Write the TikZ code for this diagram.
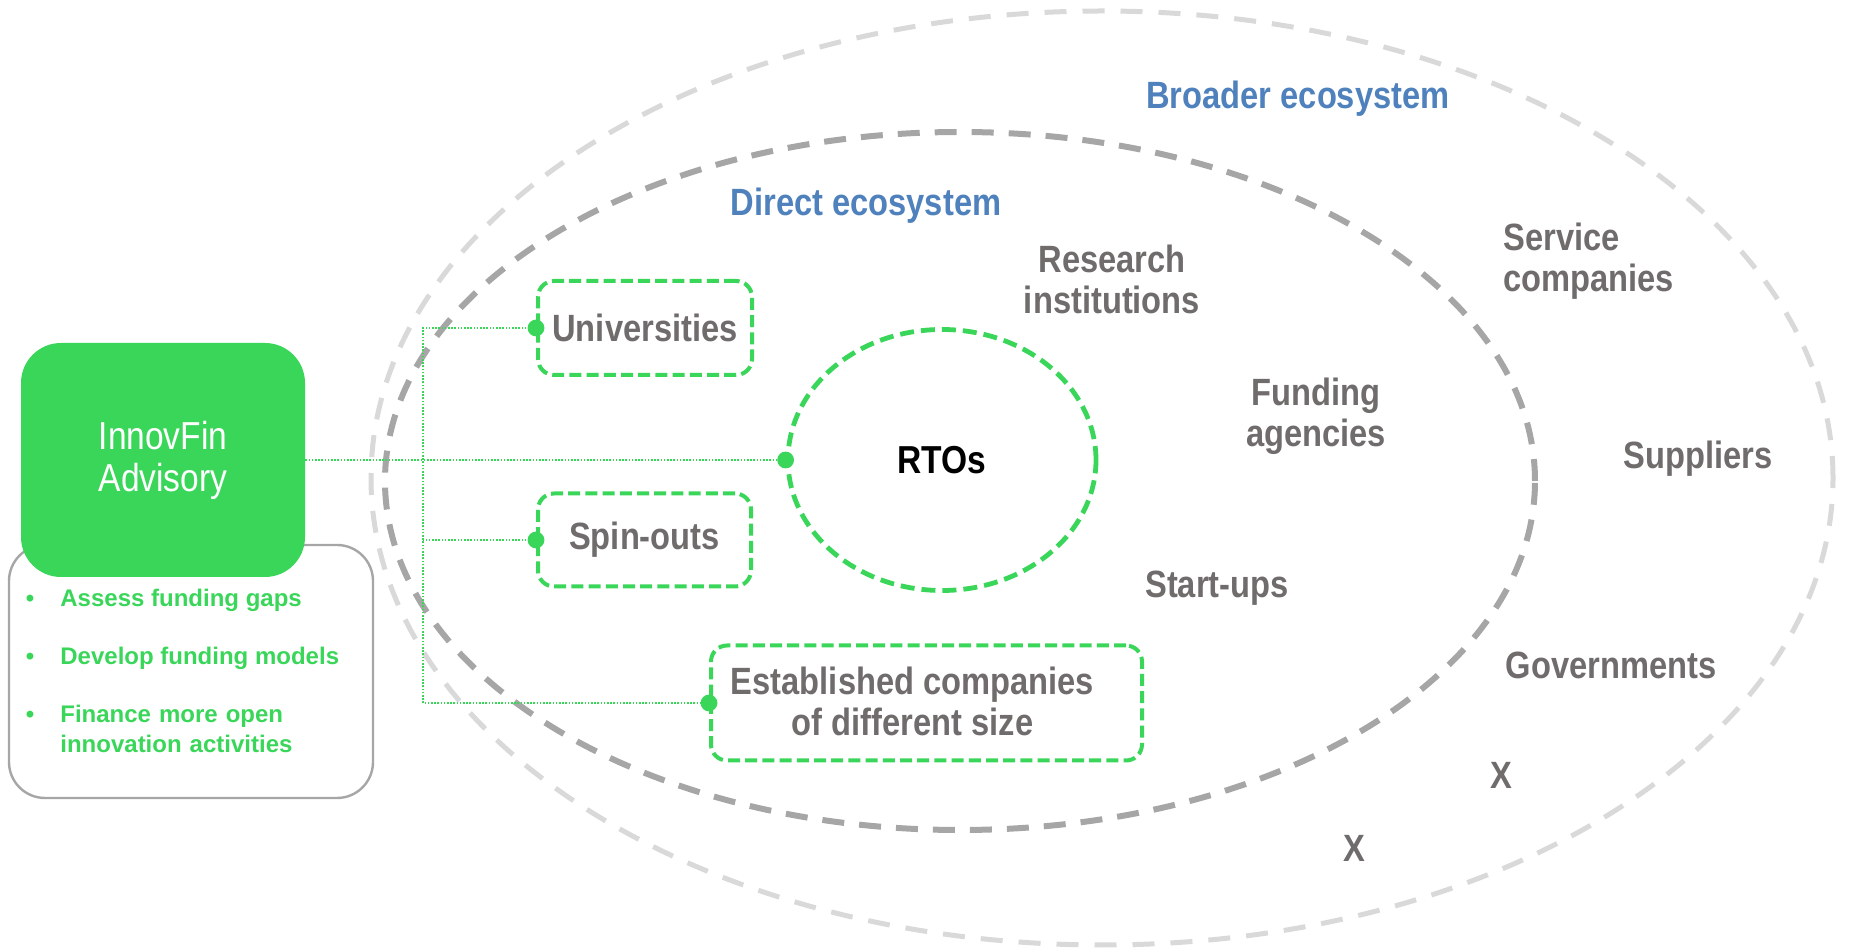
\documentclass[tikz,border=0pt]{standalone}
\usepackage{fontspec}
\setmainfont{Liberation Sans}
\newfontfamily\narrowfont{Liberation Sans}[FakeStretch=0.86]
\usetikzlibrary{shapes.geometric}

\definecolor{ecogreen}{RGB}{58,214,90}
\definecolor{labelgray}{RGB}{112,108,108}
\definecolor{ecoblue}{RGB}{79,129,189}
\definecolor{outergray}{RGB}{217,217,217}
\definecolor{innergray}{RGB}{166,166,166}

\tikzset{
  actor/.style={font=\narrowfont\bfseries\fontsize{19}{20.5}\selectfont, text=labelgray, align=center, inner sep=0pt},
  ecotitle/.style={font=\narrowfont\bfseries\fontsize{19}{21}\selectfont, text=ecoblue, inner sep=0pt},
  partner/.style={actor, draw=ecogreen, line width=2pt, dash pattern=on 6pt off 2.6pt, rounded corners=8pt},
  link/.style={ecogreen, line width=0.7pt, dash pattern=on 0.8pt off 0.8pt},
  task/.style={font=\bfseries\fontsize{12}{15}\selectfont, text=ecogreen, anchor=base west, inner sep=0pt, align=left},
}

\begin{document}
\begin{tikzpicture}[x=0.5pt,y=-0.5pt]
\useasboundingbox (0,0) rectangle (1849,951);

% the two ecosystems
\draw[outergray, line width=2.5pt, dash pattern=on 11pt off 8pt] (1102,478) ellipse [x radius=365.5pt, y radius=233.5pt];
\draw[innergray, line width=3pt, dash pattern=on 11pt off 7.5pt] (960,481) ellipse [x radius=287.5pt, y radius=174.5pt];

% advisory and its tasks
\node[draw=innergray, line width=1.2pt, rounded corners=18pt, minimum width=182pt, minimum height=126.5pt] (tasks) at (191,671.5) {};
\node[fill=ecogreen, rounded corners=20pt, minimum width=142pt, minimum height=117pt, text=white, align=center,
      font=\narrowfont\fontsize{19.5}{21}\selectfont] (advisory) at (163,460) {InnovFin\\Advisory};

\node[task] (gaps) at (60,607) {\llap{\textbullet\hspace{13pt}}Assess funding gaps};
\node[task] (models) at (60,665) {\llap{\textbullet\hspace{13pt}}Develop funding models};
\node[task, text width=160pt] (activities) at (60,723) {\llap{\textbullet\hspace{13pt}}Finance more open\\innovation activities};

% direct partners
\node[partner, minimum width=107pt, minimum height=47pt] (uni) at (645,328) {Universities};
\node[partner, minimum width=106.5pt, minimum height=46.5pt] (spin) at (644.5,540) {Spin-outs};
\node[partner, minimum width=215.5pt, minimum height=57.5pt] (estab) at (926.5,703)
  {\begin{tabular}{@{}c@{\hspace{14pt}}}\rule{0pt}{18pt}Established companies\\of different size\end{tabular}};
\node[ellipse, draw=ecogreen, line width=2.4pt, dash pattern=on 7pt off 3.5pt, minimum width=154pt, minimum height=130.5pt,
      font=\narrowfont\bfseries\fontsize{19.5}{21}\selectfont] (rto) at (942,460) {RTOs};

% labels
\node[ecotitle] (broader) at (1298,99) {Broader ecosystem};
\node[ecotitle] (direct) at (866,206) {Direct ecosystem};
\node[actor] (research) at (1112,279) {Research\\institutions};
\node[actor, anchor=west, align=left] (service) at (1503,261) {Service\\companies};
\node[actor] (funding) at (1316,416) {Funding\\agencies};
\node[actor] (suppliers) at (1698,459) {Suppliers};
\node[actor] (startups) at (1217,588) {Start-ups};
\node[actor] (govts) at (1611,665) {Governments};
\node[actor] (xa) at (1501,775) {X};
\node[actor] (xb) at (1354,848) {X};

% connectors
\coordinate (bus) at (423,460);
\draw[link] (advisory.east) -- (rto.west);
\draw[link] (uni.west) -| (bus) |- (estab.west);
\draw[link] (spin.west) -- (spin.west -| bus);
\fill[ecogreen] (uni.west) circle[radius=4.2pt];
\fill[ecogreen] (spin.west) circle[radius=4.2pt];
\fill[ecogreen] (estab.west) circle[radius=4.2pt];
\fill[ecogreen] (rto.west) circle[radius=4.2pt];

\end{tikzpicture}
\end{document}
